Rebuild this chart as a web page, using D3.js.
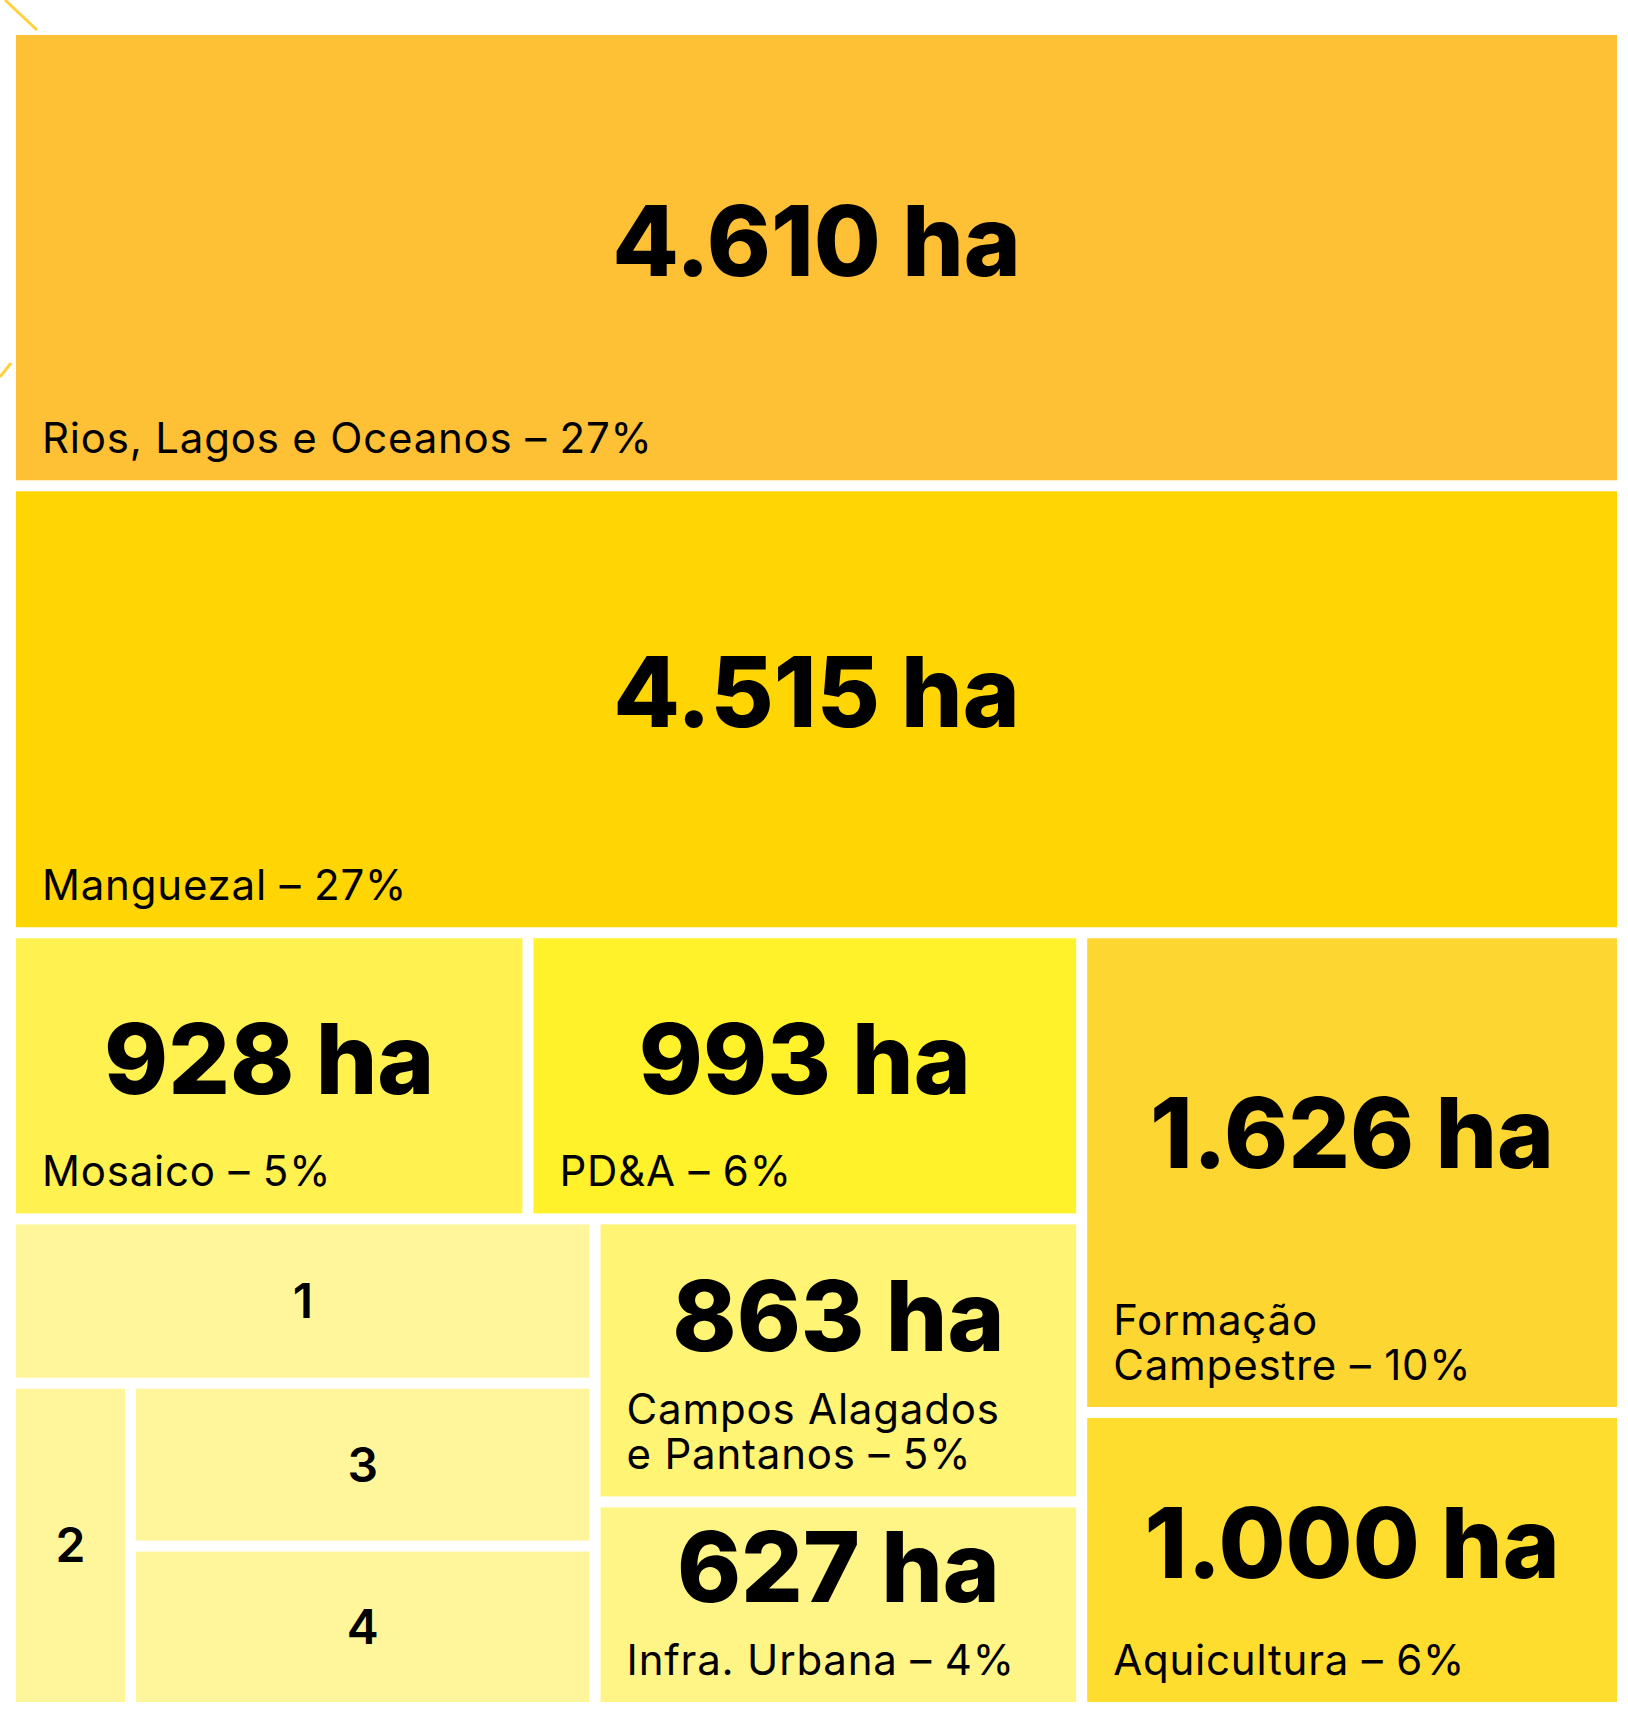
<!DOCTYPE html>
<html>
<head>
<meta charset="utf-8">
<script src="https://cdn.jsdelivr.net/npm/d3@7"></script>
<style>
  body { margin: 0; background: #fff; }
  svg { display: block; }
</style>
</head>
<body>
<div id="chart"></div>
<script>
// land cover areas (ha) - cells 1..4 carry no value in the picture, estimated from their size
var names  = ["Rios, Lagos e Oceanos", "Manguezal", "Mosaico", "PD&A", "Formação\nCampestre",
              "Aquicultura", "Campos Alagados\ne Pantanos", "Infra. Urbana", "1", "2", "3", "4"];
var areas  = [4610, 4515, 928, 993, 1626, 1000, 863, 627, 602, 244, 474, 470];
var shares = [27, 27, 5, 6, 10, 6, 5, 4, null, null, null, null];

// how the cells are nested: slice = stacked, dice = side by side
var nesting = ["slice", 0, 1,
                ["dice",
                  ["slice",
                    ["dice", 2, 3],
                    ["dice",
                      ["slice", 8, ["dice", 9, ["slice", 10, 11]]],
                      ["slice", 6, 7]]],
                  ["slice", 4, 5]]];

var fills = ["#FEC034", "#FFD503", "#FFF250", "#FFF22B", "#FED631",
             "#FFDD2F", "#FFF473", "#FFF586", "#FFF69C", "#FFF69C", "#FFF69C", "#FFF69C"];

var W = 1628, H = 1716;
var box = {x: 16, y: 35, w: 1601, h: 1667};

var fmt = d3.formatLocale({decimal: ",", thousands: ".", grouping: [3], currency: ["", ""]}).format(",");

function build(n) {
        if (typeof n === "number") return {idx: n};
        return {dir: n[0], children: n.slice(1).map(build)};
}

var root = d3.hierarchy(build(nesting))
        .sum(function(d) { return d.idx === undefined ? 0 : areas[d.idx]; });

d3.treemap()
        .size([box.w, box.h])
        .paddingInner(11)
        .tile(function(node, x0, y0, x1, y1) {
                (node.data.dir === "slice" ? d3.treemapSlice : d3.treemapDice)(node, x0, y0, x1, y1);
        })(root);

var svg = d3.select("#chart").append("svg")
        .attr("width", W)
        .attr("height", H);

// decorative strokes cut by the frame
svg.append("path")
        .attr("d", "M5,0L37,30M0,377L11,363")
        .attr("stroke", "#FFD23C")
        .attr("stroke-width", 3)
        .attr("fill", "none");

var g = svg.append("g")
        .attr("transform", "translate(" + box.x + "," + box.y + ")");

var cell = g.selectAll("g.cell")
        .data(root.leaves())
        .enter().append("g")
        .attr("class", "cell");

cell.append("rect")
        .attr("x", function(d) { return d.x0; })
        .attr("y", function(d) { return d.y0; })
        .attr("width", function(d) { return d.x1 - d.x0; })
        .attr("height", function(d) { return d.y1 - d.y0; })
        .style("fill", function(d) { return fills[d.data.idx]; });

var bigFont = "Inter, Lato, 'DejaVu Sans', sans-serif";
var lineH = 45;

cell.each(function(d) {
        var i = d.data.idx, el = d3.select(this);
        var cx = (d.x0 + d.x1) / 2, cy = (d.y0 + d.y1) / 2;

        if (shares[i] === null) {
                // unlabelled small cells: just the number
                el.append("text")
                        .attr("x", cx)
                        .attr("y", cy + 17)
                        .attr("text-anchor", "middle")
                        .style("font-family", bigFont)
                        .style("font-weight", 600)
                        .style("font-size", "48px")
                        .text(names[i]);
                return;
        }

        var lines = names[i].split("\n");
        lines[lines.length - 1] += " – " + shares[i] + "%";
        var lastBase = d.y1 - 27;
        var firstBase = lastBase - (lines.length - 1) * lineH;

        el.append("text")
                .attr("x", d.x0 + 26)
                .style("font-family", bigFont)
                .style("font-weight", 400)
                .style("font-size", "42px")
                .style("letter-spacing", "0.8px")
                .selectAll("tspan")
                .data(lines)
                .enter().append("tspan")
                .attr("x", d.x0 + 26)
                .attr("y", function(t, k) { return firstBase + k * lineH; })
                .text(function(t) { return t; });

        var labelTop = firstBase - 31;
        var base = Math.min((d.y0 + labelTop) / 2 + 47, labelTop - 42);
        el.append("text")
                .attr("x", cx)
                .attr("y", base)
                .attr("text-anchor", "middle")
                .style("font-family", bigFont)
                .style("font-weight", 800)
                .style("font-size", "97px")
                .text(fmt(areas[i]) + " ha");
});
</script>
</body>
</html>
